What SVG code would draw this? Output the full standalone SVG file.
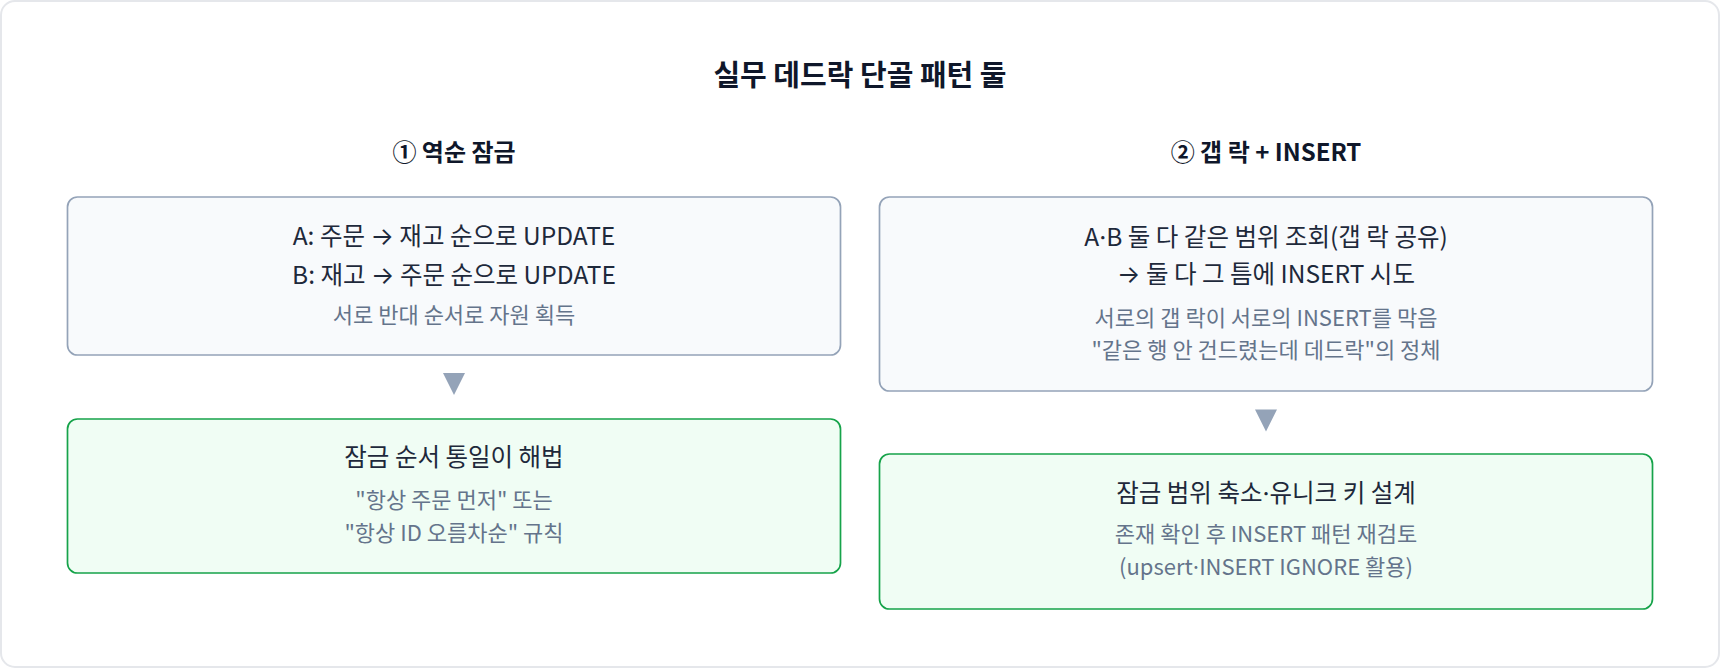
<svg xmlns="http://www.w3.org/2000/svg" width="1720" height="668" viewBox="0 0 1720 668">
<style>
text{font-family:"Noto Sans CJK KR","Noto Sans",sans-serif;text-anchor:middle}
.title{font-size:29px;font-weight:700;fill:#0f172a}
.sub{font-size:24px;font-weight:700;fill:#0f172a}
.pri{font-size:24.5px;fill:#1e293b}
.sec{font-size:22px;fill:#64748b}
.sym{font-family:Inter,"Noto Sans CJK KR",sans-serif}
.box{fill:#f8fafc;stroke:#94a3b8;stroke-width:1.7}
.ok{fill:#f0fdf4;stroke:#16a34a;stroke-width:1.7}
.arr{fill:#94a3b8}
</style>
<rect x="1" y="1" width="1718" height="666" rx="14" fill="#ffffff" stroke="#e5e7eb" stroke-width="2"/>
<text class="title" x="860" y="85.5">실무 데드락 단골 패턴 둘</text>
<text class="sub" x="454" y="161">① 역순 잠금</text>
<text class="sub" x="1266" y="161">② 갭 락 + INSERT</text>
<g id="node-reverse">
<rect class="box" x="67.5" y="197" width="773" height="158" rx="10"/>
<text class="pri" x="454" y="245">A: 주문 <tspan class="sym">→</tspan> 재고 순으로 UPDATE</text>
<text class="pri" x="454" y="284">B: 재고 <tspan class="sym">→</tspan> 주문 순으로 UPDATE</text>
<text class="sec" x="454" y="323">서로 반대 순서로 자원 획득</text>
</g>
<g id="node-reverse-fix">
<rect class="ok" x="67.5" y="419" width="773" height="154" rx="10"/>
<text class="pri" x="454" y="466">잠금 순서 통일이 해법</text>
<text class="sec" x="454" y="508">"항상 주문 먼저" 또는</text>
<text class="sec" x="454" y="541">"항상 ID 오름차순" 규칙</text>
</g>
<g id="node-gap">
<rect class="box" x="879.5" y="197" width="773" height="194" rx="10"/>
<text class="pri" x="1266" y="246">A<tspan class="sym">·</tspan>B 둘 다 같은 범위 조회(갭 락 공유)</text>
<text class="pri" x="1266" y="283"><tspan class="sym">→</tspan> 둘 다 그 틈에 INSERT 시도</text>
<text class="sec" x="1266" y="325.5">서로의 갭 락이 서로의 INSERT를 막음</text>
<text class="sec" x="1266" y="357.5">"같은 행 안 건드렸는데 데드락"의 정체</text>
</g>
<g id="node-gap-fix">
<rect class="ok" x="879.5" y="454" width="773" height="155" rx="10"/>
<text class="pri" x="1266" y="501.5">잠금 범위 축소<tspan class="sym">·</tspan>유니크 키 설계</text>
<text class="sec" x="1266" y="542">존재 확인 후 INSERT 패턴 재검토</text>
<text class="sec" x="1266" y="575">(upsert<tspan class="sym">·</tspan>INSERT IGNORE 활용)</text>
</g>
<g id="connectors">
<polygon class="arr" points="443,373 465,373 454,395"/>
<polygon class="arr" points="1255,409.5 1277,409.5 1266,431.5"/>
</g>
</svg>
